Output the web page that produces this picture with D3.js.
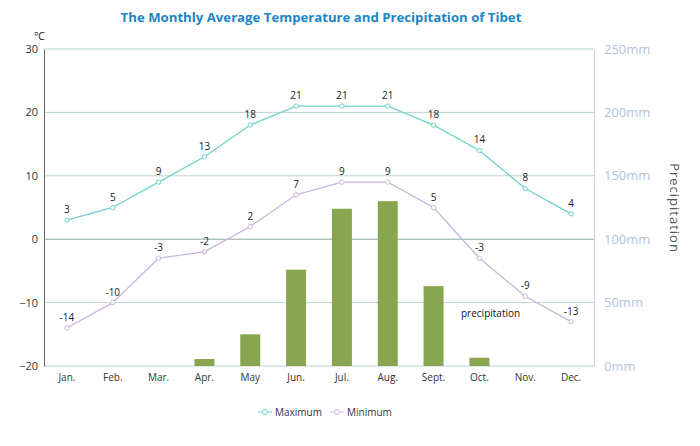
<!DOCTYPE html>
<html><head><meta charset="utf-8">
<script src="https://cdn.jsdelivr.net/npm/d3@7"></script>
<style>body{margin:0;background:#fff;font-family:"Open Sans",sans-serif;}</style>
</head><body><svg id="c" width="700" height="446"></svg>
<script>
const months=["Jan.","Feb.","Mar.","Apr.","May","Jun.","Jul.","Aug.","Sept.","Oct.","Nov.","Dec."];
const maxT=[3,5,9,13,18,21,21,21,18,14,8,4];
const minT=[-14,-10,-3,-2,2,7,9,9,5,-3,-9,-13];
const precip=[0,0,0,5.5,25,76,124,130,63,6.5,0,0];
const tempTicks=[-20,-10,0,10,20,30];
const precTicks=[0,50,100,150,200,250];

const svg=d3.select("#c");
const L=44,R=594,T=49,B=366;
const x=d3.scaleBand().domain(months).range([L,R]);
const y=d3.scaleLinear().domain([-20,30]).range([B,T]);
const y2=d3.scaleLinear().domain([0,250]).range([B,T]);

svg.append("text").attr("x",321).attr("y",22).attr("text-anchor","middle")
 .attr("font-size",13.2).attr("font-weight","bold").attr("fill","#1a86c6")
 .text("The Monthly Average Temperature and Precipitation of Tibet");

svg.append("g").selectAll("line").data(tempTicks).join("line")
 .attr("x1",L).attr("x2",R).attr("y1",d=>y(d)).attr("y2",d=>y(d))
 .attr("stroke",d=>d===0?"#8aa8a0":"#bcd4ce").attr("stroke-width",1);

const la=svg.append("g").attr("transform",`translate(${L},0)`).call(d3.axisLeft(y).tickValues(tempTicks).tickSize(0).tickPadding(6));
la.select(".domain").attr("stroke","#666");
la.selectAll("text").attr("font-size",11).attr("fill","#333").attr("font-family","Open Sans");
svg.append("text").attr("x",34).attr("y",40).attr("font-size",11).attr("fill","#333").text("℃");

const ra=svg.append("g").attr("transform",`translate(${R},0)`).call(d3.axisRight(y2).tickValues(precTicks).tickSize(0).tickPadding(10).tickFormat(d=>d+"mm"));
ra.select(".domain").attr("stroke","#ccd");
ra.selectAll("text").attr("font-size",13).attr("fill","#b3c4d6").attr("font-family","Open Sans");
svg.append("text").attr("transform","translate(670,208) rotate(90)").attr("text-anchor","middle")
 .attr("font-size",13).attr("fill","#555").attr("letter-spacing",1).text("Precipitation");

svg.append("g").selectAll("text").data(months).join("text")
 .attr("x",d=>x(d)+x.bandwidth()/2).attr("y",381).attr("text-anchor","middle")
 .attr("font-size",10).attr("fill","#333").text(d=>d);

const bw=20;
svg.append("g").selectAll("rect").data(precip).join("rect")
 .attr("x",(d,i)=>x(months[i])+x.bandwidth()/2-bw/2).attr("width",bw)
 .attr("y",d=>y2(d)).attr("height",d=>B-y2(d)).attr("fill","#88a64f");
svg.append("text").attr("x",461).attr("y",317).attr("font-size",10).attr("fill","#111").text("precipitation");

function series(data,color){
 const cx=(d,i)=>x(months[i])+x.bandwidth()/2;
 svg.append("path").datum(data).attr("fill","none").attr("stroke",color).attr("stroke-width",1.3)
  .attr("d",d3.line().x(cx).y(d=>y(d)));
 svg.append("g").selectAll("circle").data(data).join("circle")
  .attr("cx",cx).attr("cy",d=>y(d)).attr("r",2.2).attr("fill","#fff").attr("stroke",color);
 svg.append("g").selectAll("text").data(data).join("text")
  .attr("x",cx).attr("y",d=>y(d)-7).attr("text-anchor","middle").attr("font-size",10).attr("fill","#222").text(d=>d);
}
series(maxT,"#6fd3cb");
series(minT,"#c8b6d8");

const lg=svg.append("g");
[["Maximum","#6fd3cb",258],["Minimum","#c8b6d8",330]].forEach(([t,c,lx])=>{
 lg.append("line").attr("x1",lx).attr("x2",lx+14).attr("y1",412).attr("y2",412).attr("stroke",c);
 lg.append("circle").attr("cx",lx+7).attr("cy",412).attr("r",2.5).attr("fill","#fff").attr("stroke",c);
 lg.append("text").attr("x",lx+17).attr("y",416).attr("font-size",10).attr("fill","#333").text(t);
});
</script></body></html>
